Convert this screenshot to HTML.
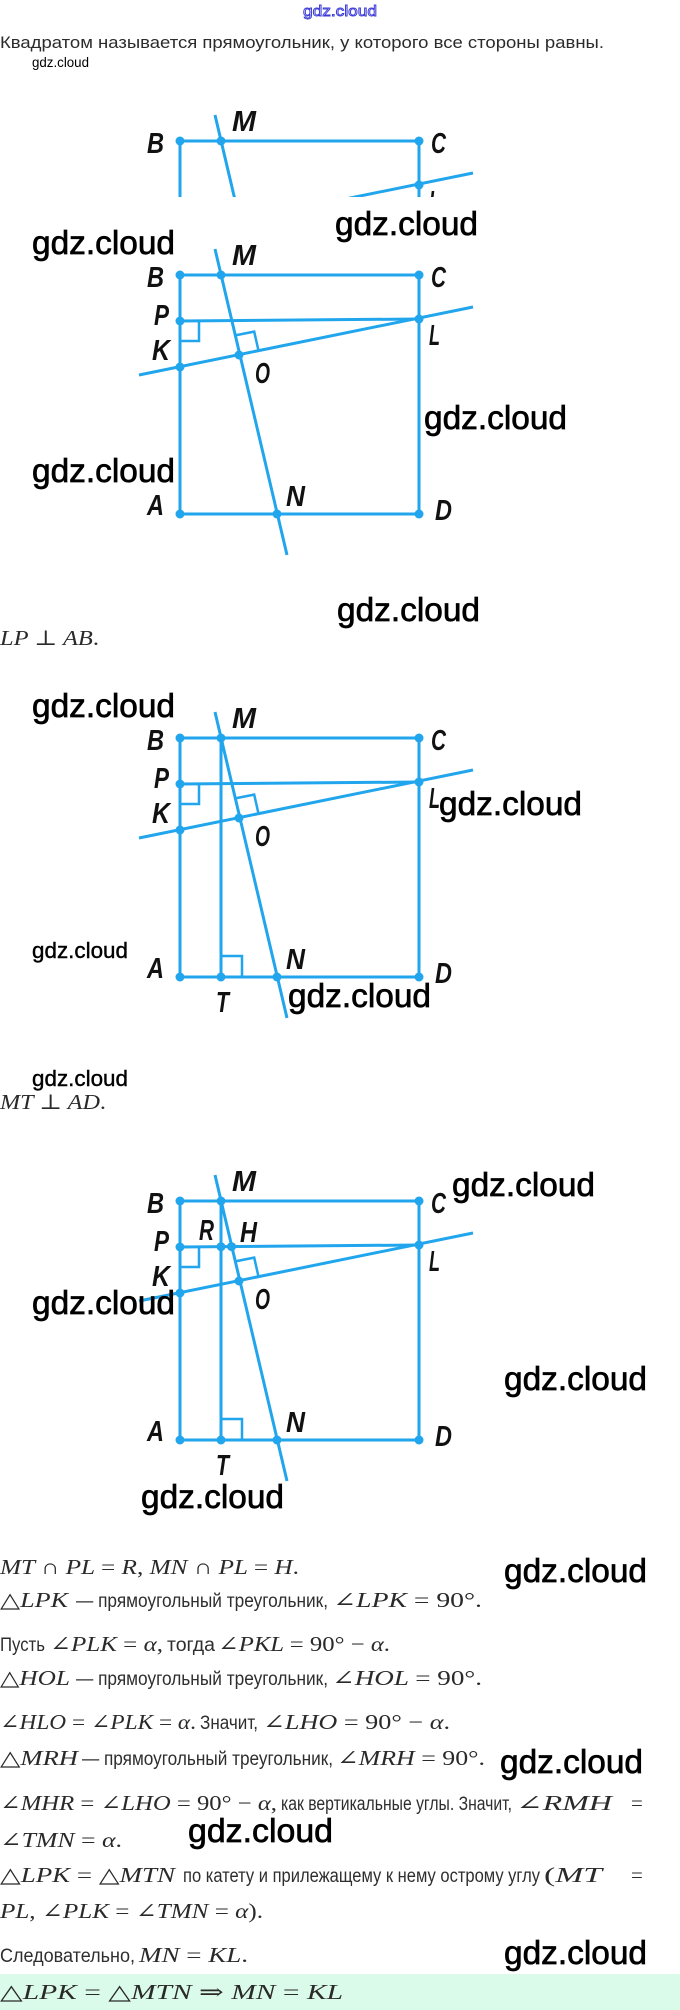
<!DOCTYPE html>
<html>
<head>
<meta charset="utf-8">
<style>
html,body{margin:0;padding:0;background:#fff;}
body{width:680px;height:2010px;overflow:hidden;position:relative;}
svg{display:block;}
.m{font-family:"Liberation Serif","DejaVu Serif",serif;font-style:italic;font-size:21px;fill:#2a2a2a;}
.u{font-style:normal;}
.t{font-family:"Liberation Sans","DejaVu Sans",sans-serif;font-size:19px;fill:#2e2e2e;}
.p{font-family:"Liberation Sans","DejaVu Sans",sans-serif;font-size:17px;fill:#2b2b2b;}
.w{font-family:"Liberation Sans","DejaVu Sans",sans-serif;font-size:33px;fill:#000;stroke:#000;stroke-width:0.7;}
.wm{font-family:"Liberation Sans","DejaVu Sans",sans-serif;font-size:22px;fill:#000;stroke:#000;stroke-width:0.4;}
.ws{font-family:"Liberation Sans","DejaVu Sans",sans-serif;font-size:13.5px;fill:#000;}
.lb{font-family:"Liberation Sans","DejaVu Sans",sans-serif;font-size:29px;font-weight:bold;font-style:italic;fill:#111;}
.ln{fill:none;stroke:#21a5ec;stroke-width:3;}
.ra{fill:none;stroke:#21a5ec;stroke-width:2.5;}
.dt{fill:#21a5ec;}
</style>
</head>
<body>
<svg width="680" height="2010" viewBox="0 0 680 2010" xmlns="http://www.w3.org/2000/svg">
<defs>
<clipPath id="c1"><rect x="0" y="-60" width="680" height="116"/></clipPath>
</defs>

<!-- top blue watermark -->
<text x="303" y="16" font-family="Liberation Sans, sans-serif" font-size="15" textLength="74" lengthAdjust="spacingAndGlyphs" fill="#fff" stroke="#3b3bd6" stroke-width="0.9">gdz.cloud</text>

<!-- paragraph -->
<text class="p" x="0" y="48" textLength="604" lengthAdjust="spacingAndGlyphs">Квадратом называется прямоугольник, у которого все стороны равны.</text>
<text class="ws" x="32" y="67" textLength="57" lengthAdjust="spacingAndGlyphs">gdz.cloud</text>

<!-- FIGURE 1 (cropped) -->
<g transform="translate(0,141)">
 <g clip-path="url(#c1)">
  <rect class="ln" x="180" y="0" width="239" height="239"/>
  <line class="ln" x1="215" y1="-26" x2="287" y2="280"/>
  <line class="ln" x1="139" y1="100" x2="473" y2="32"/>
  <circle class="dt" cx="180" cy="0" r="4.5"/>
  <circle class="dt" cx="221" cy="0" r="4.5"/>
  <circle class="dt" cx="419" cy="0" r="4.5"/>
  <circle class="dt" cx="419" cy="44" r="4.5"/>
  <text class="lb" x="429" y="70" textLength="11" lengthAdjust="spacingAndGlyphs">L</text>
 </g>
 <text class="lb" x="232" y="-10" textLength="24" lengthAdjust="spacingAndGlyphs">M</text>
 <text class="lb" x="147" y="12" textLength="17" lengthAdjust="spacingAndGlyphs">B</text>
 <text class="lb" x="431" y="12" textLength="15" lengthAdjust="spacingAndGlyphs">C</text>
</g>

<!-- FIGURE 2 -->
<g transform="translate(0,275)">
 <rect class="ln" x="180" y="0" width="239" height="239"/>
 <line class="ln" x1="180" y1="46" x2="419" y2="44"/>
 <line class="ln" x1="215" y1="-26" x2="287" y2="280"/>
 <line class="ln" x1="139" y1="100" x2="473" y2="32"/>
 <polyline class="ra" points="180,66 199,66 199,46"/>
 <polyline class="ra" points="234.6,60.5 254.2,56.6 258.6,76.1"/>
 <circle class="dt" cx="180" cy="0" r="4.5"/>
 <circle class="dt" cx="221" cy="0" r="4.5"/>
 <circle class="dt" cx="419" cy="0" r="4.5"/>
 <circle class="dt" cx="180" cy="46" r="4.5"/>
 <circle class="dt" cx="419" cy="44" r="4.5"/>
 <circle class="dt" cx="180" cy="92" r="4.5"/>
 <circle class="dt" cx="239" cy="80" r="4.5"/>
 <circle class="dt" cx="180" cy="239" r="4.5"/>
 <circle class="dt" cx="277" cy="239" r="4.5"/>
 <circle class="dt" cx="419" cy="239" r="4.5"/>
 <text class="lb" x="232" y="-10" textLength="24" lengthAdjust="spacingAndGlyphs">M</text>
 <text class="lb" x="147" y="12" textLength="17" lengthAdjust="spacingAndGlyphs">B</text>
 <text class="lb" x="431" y="12" textLength="15" lengthAdjust="spacingAndGlyphs">C</text>
 <text class="lb" x="154" y="50" textLength="15" lengthAdjust="spacingAndGlyphs">P</text>
 <text class="lb" x="429" y="70" textLength="11" lengthAdjust="spacingAndGlyphs">L</text>
 <text class="lb" x="152" y="85" textLength="18" lengthAdjust="spacingAndGlyphs">K</text>
 <text class="lb" x="255" y="108" textLength="15" lengthAdjust="spacingAndGlyphs">O</text>
 <text class="lb" x="147" y="240" textLength="17" lengthAdjust="spacingAndGlyphs">A</text>
 <text class="lb" x="286" y="231" textLength="19" lengthAdjust="spacingAndGlyphs">N</text>
 <text class="lb" x="435" y="245" textLength="17" lengthAdjust="spacingAndGlyphs">D</text>
</g>

<!-- FIGURE 3 -->
<g transform="translate(0,738)">
 <rect class="ln" x="180" y="0" width="239" height="239"/>
 <line class="ln" x1="180" y1="46" x2="419" y2="44"/>
 <line class="ln" x1="215" y1="-26" x2="287" y2="280"/>
 <line class="ln" x1="139" y1="100" x2="473" y2="32"/>
 <line class="ln" x1="221" y1="0" x2="221" y2="239"/>
 <polyline class="ra" points="180,66 199,66 199,46"/>
 <polyline class="ra" points="234.6,60.5 254.2,56.6 258.6,76.1"/>
 <polyline class="ra" points="221,218 242,218 242,239"/>
 <circle class="dt" cx="180" cy="0" r="4.5"/>
 <circle class="dt" cx="221" cy="0" r="4.5"/>
 <circle class="dt" cx="419" cy="0" r="4.5"/>
 <circle class="dt" cx="180" cy="46" r="4.5"/>
 <circle class="dt" cx="419" cy="44" r="4.5"/>
 <circle class="dt" cx="180" cy="92" r="4.5"/>
 <circle class="dt" cx="239" cy="80" r="4.5"/>
 <circle class="dt" cx="180" cy="239" r="4.5"/>
 <circle class="dt" cx="221" cy="239" r="4.5"/>
 <circle class="dt" cx="277" cy="239" r="4.5"/>
 <circle class="dt" cx="419" cy="239" r="4.5"/>
 <text class="lb" x="232" y="-10" textLength="24" lengthAdjust="spacingAndGlyphs">M</text>
 <text class="lb" x="147" y="12" textLength="17" lengthAdjust="spacingAndGlyphs">B</text>
 <text class="lb" x="431" y="12" textLength="15" lengthAdjust="spacingAndGlyphs">C</text>
 <text class="lb" x="154" y="50" textLength="15" lengthAdjust="spacingAndGlyphs">P</text>
 <text class="lb" x="429" y="70" textLength="11" lengthAdjust="spacingAndGlyphs">L</text>
 <text class="lb" x="152" y="85" textLength="18" lengthAdjust="spacingAndGlyphs">K</text>
 <text class="lb" x="255" y="108" textLength="15" lengthAdjust="spacingAndGlyphs">O</text>
 <text class="lb" x="147" y="240" textLength="17" lengthAdjust="spacingAndGlyphs">A</text>
 <text class="lb" x="286" y="231" textLength="19" lengthAdjust="spacingAndGlyphs">N</text>
 <text class="lb" x="435" y="245" textLength="17" lengthAdjust="spacingAndGlyphs">D</text>
 <text class="lb" x="216" y="274" textLength="13" lengthAdjust="spacingAndGlyphs">T</text>
</g>

<!-- FIGURE 4 -->
<g transform="translate(0,1201)">
 <rect class="ln" x="180" y="0" width="239" height="239"/>
 <line class="ln" x1="180" y1="46" x2="419" y2="44"/>
 <line class="ln" x1="215" y1="-26" x2="287" y2="280"/>
 <line class="ln" x1="139" y1="100" x2="473" y2="32"/>
 <line class="ln" x1="221" y1="0" x2="221" y2="239"/>
 <polyline class="ra" points="180,66 199,66 199,46"/>
 <polyline class="ra" points="234.6,60.5 254.2,56.6 258.6,76.1"/>
 <polyline class="ra" points="221,218 242,218 242,239"/>
 <circle class="dt" cx="180" cy="0" r="4.5"/>
 <circle class="dt" cx="221" cy="0" r="4.5"/>
 <circle class="dt" cx="419" cy="0" r="4.5"/>
 <circle class="dt" cx="180" cy="46" r="4.5"/>
 <circle class="dt" cx="221" cy="45.7" r="4.5"/>
 <circle class="dt" cx="231.5" cy="45.6" r="4.5"/>
 <circle class="dt" cx="419" cy="44" r="4.5"/>
 <circle class="dt" cx="180" cy="92" r="4.5"/>
 <circle class="dt" cx="239" cy="80" r="4.5"/>
 <circle class="dt" cx="180" cy="239" r="4.5"/>
 <circle class="dt" cx="221" cy="239" r="4.5"/>
 <circle class="dt" cx="277" cy="239" r="4.5"/>
 <circle class="dt" cx="419" cy="239" r="4.5"/>
 <text class="lb" x="232" y="-10" textLength="24" lengthAdjust="spacingAndGlyphs">M</text>
 <text class="lb" x="147" y="12" textLength="17" lengthAdjust="spacingAndGlyphs">B</text>
 <text class="lb" x="431" y="12" textLength="15" lengthAdjust="spacingAndGlyphs">C</text>
 <text class="lb" x="154" y="50" textLength="15" lengthAdjust="spacingAndGlyphs">P</text>
 <text class="lb" x="199" y="39" textLength="15" lengthAdjust="spacingAndGlyphs">R</text>
 <text class="lb" x="240" y="41" textLength="17" lengthAdjust="spacingAndGlyphs">H</text>
 <text class="lb" x="429" y="70" textLength="11" lengthAdjust="spacingAndGlyphs">L</text>
 <text class="lb" x="152" y="85" textLength="18" lengthAdjust="spacingAndGlyphs">K</text>
 <text class="lb" x="255" y="108" textLength="15" lengthAdjust="spacingAndGlyphs">O</text>
 <text class="lb" x="147" y="240" textLength="17" lengthAdjust="spacingAndGlyphs">A</text>
 <text class="lb" x="286" y="231" textLength="19" lengthAdjust="spacingAndGlyphs">N</text>
 <text class="lb" x="435" y="245" textLength="17" lengthAdjust="spacingAndGlyphs">D</text>
 <text class="lb" x="216" y="274" textLength="13" lengthAdjust="spacingAndGlyphs">T</text>
</g>

<!-- math captions under figures -->
<text class="m" x="0" y="645" textLength="99" lengthAdjust="spacingAndGlyphs">LP <tspan class="u">⊥</tspan> AB<tspan class="u">.</tspan></text>
<text class="m" x="0" y="1109" textLength="106" lengthAdjust="spacingAndGlyphs">MT <tspan class="u">⊥</tspan> AD<tspan class="u">.</tspan></text>

<!-- solution text -->
<text class="m" x="0" y="1574" textLength="299" lengthAdjust="spacingAndGlyphs">MT <tspan class="u">∩</tspan> PL <tspan class="u">=</tspan> R<tspan class="u">,</tspan> MN <tspan class="u">∩</tspan> PL <tspan class="u">=</tspan> H<tspan class="u">.</tspan></text>

<text class="m" x="0" y="1607" textLength="68" lengthAdjust="spacingAndGlyphs"><tspan class="u">△</tspan>LPK</text>
<text class="t" x="76" y="1607" textLength="252" lengthAdjust="spacingAndGlyphs">— прямоугольный треугольник,</text>
<text class="m" x="333" y="1607" textLength="149" lengthAdjust="spacingAndGlyphs"><tspan class="u">∠</tspan>LPK <tspan class="u">= 90°.</tspan></text>

<text class="t" x="0" y="1651" textLength="45" lengthAdjust="spacingAndGlyphs">Пусть</text>
<text class="m" x="50" y="1651" textLength="113" lengthAdjust="spacingAndGlyphs"><tspan class="u">∠</tspan>PLK <tspan class="u">=</tspan> α<tspan class="u">,</tspan></text>
<text class="t" x="167" y="1651" textLength="48" lengthAdjust="spacingAndGlyphs">тогда</text>
<text class="m" x="218" y="1651" textLength="172" lengthAdjust="spacingAndGlyphs"><tspan class="u">∠</tspan>PKL <tspan class="u">= 90° −</tspan> α<tspan class="u">.</tspan></text>

<text class="m" x="0" y="1685" textLength="70" lengthAdjust="spacingAndGlyphs"><tspan class="u">△</tspan>HOL</text>
<text class="t" x="76" y="1685" textLength="252" lengthAdjust="spacingAndGlyphs">— прямоугольный треугольник,</text>
<text class="m" x="332" y="1685" textLength="150" lengthAdjust="spacingAndGlyphs"><tspan class="u">∠</tspan>HOL <tspan class="u">= 90°.</tspan></text>

<text class="m" x="0" y="1729" textLength="196" lengthAdjust="spacingAndGlyphs"><tspan class="u">∠</tspan>HLO <tspan class="u">= ∠</tspan>PLK <tspan class="u">=</tspan> α<tspan class="u">.</tspan></text>
<text class="t" x="200" y="1729" textLength="58" lengthAdjust="spacingAndGlyphs">Значит,</text>
<text class="m" x="263" y="1729" textLength="187" lengthAdjust="spacingAndGlyphs"><tspan class="u">∠</tspan>LHO <tspan class="u">= 90° −</tspan> α<tspan class="u">.</tspan></text>

<text class="m" x="0" y="1765" textLength="78" lengthAdjust="spacingAndGlyphs"><tspan class="u">△</tspan>MRH</text>
<text class="t" x="82" y="1765" textLength="251" lengthAdjust="spacingAndGlyphs">— прямоугольный треугольник,</text>
<text class="m" x="337" y="1765" textLength="148" lengthAdjust="spacingAndGlyphs"><tspan class="u">∠</tspan>MRH <tspan class="u">= 90°.</tspan></text>

<text class="m" x="0" y="1810" textLength="277" lengthAdjust="spacingAndGlyphs"><tspan class="u">∠</tspan>MHR <tspan class="u">= ∠</tspan>LHO <tspan class="u">= 90° −</tspan> α<tspan class="u">,</tspan></text>
<text class="t" x="281" y="1810" textLength="231" lengthAdjust="spacingAndGlyphs">как вертикальные углы. Значит,</text>
<text class="m" x="516" y="1810" textLength="96" lengthAdjust="spacingAndGlyphs"><tspan class="u">∠</tspan>RMH</text>
<text class="m u" x="631" y="1810">=</text>

<text class="m" x="0" y="1847" textLength="122" lengthAdjust="spacingAndGlyphs"><tspan class="u">∠</tspan>TMN <tspan class="u">=</tspan> α<tspan class="u">.</tspan></text>

<text class="m" x="0" y="1882" textLength="175" lengthAdjust="spacingAndGlyphs"><tspan class="u">△</tspan>LPK <tspan class="u">= △</tspan>MTN</text>
<text class="t" x="183" y="1882" textLength="357" lengthAdjust="spacingAndGlyphs">по катету и прилежащему к нему острому углу</text>
<text class="m" x="544" y="1882" textLength="58" lengthAdjust="spacingAndGlyphs"><tspan class="u">(</tspan>MT</text>
<text class="m u" x="631" y="1882">=</text>

<text class="m" x="0" y="1918" textLength="263" lengthAdjust="spacingAndGlyphs">PL<tspan class="u">, ∠</tspan>PLK <tspan class="u">= ∠</tspan>TMN <tspan class="u">=</tspan> α<tspan class="u">).</tspan></text>

<text class="t" x="0" y="1962" textLength="135" lengthAdjust="spacingAndGlyphs">Следовательно,</text>
<text class="m" x="139" y="1962" textLength="109" lengthAdjust="spacingAndGlyphs">MN <tspan class="u">=</tspan> KL<tspan class="u">.</tspan></text>

<!-- green result box -->
<rect x="0" y="1974" width="680" height="36" fill="#dbfbea"/>
<text class="m" x="0" y="1999" textLength="343" lengthAdjust="spacingAndGlyphs"><tspan class="u">△</tspan>LPK <tspan class="u">= △</tspan>MTN <tspan class="u">⇒</tspan> MN <tspan class="u">=</tspan> KL</text>

<!-- watermarks -->
<text class="w" x="335" y="235" textLength="143" lengthAdjust="spacingAndGlyphs">gdz.cloud</text>
<text class="w" x="32" y="254" textLength="143" lengthAdjust="spacingAndGlyphs">gdz.cloud</text>
<text class="w" x="424" y="429" textLength="143" lengthAdjust="spacingAndGlyphs">gdz.cloud</text>
<text class="w" x="32" y="482" textLength="143" lengthAdjust="spacingAndGlyphs">gdz.cloud</text>
<text class="w" x="337" y="621" textLength="143" lengthAdjust="spacingAndGlyphs">gdz.cloud</text>
<text class="w" x="32" y="717" textLength="143" lengthAdjust="spacingAndGlyphs">gdz.cloud</text>
<text class="w" x="439" y="815" textLength="143" lengthAdjust="spacingAndGlyphs">gdz.cloud</text>
<text class="wm" x="32" y="958" textLength="96" lengthAdjust="spacingAndGlyphs">gdz.cloud</text>
<text class="w" x="288" y="1007" textLength="143" lengthAdjust="spacingAndGlyphs">gdz.cloud</text>
<text class="wm" x="32" y="1086" textLength="96" lengthAdjust="spacingAndGlyphs">gdz.cloud</text>
<text class="w" x="452" y="1196" textLength="143" lengthAdjust="spacingAndGlyphs">gdz.cloud</text>
<text class="w" x="32" y="1314" textLength="143" lengthAdjust="spacingAndGlyphs">gdz.cloud</text>
<text class="w" x="504" y="1390" textLength="143" lengthAdjust="spacingAndGlyphs">gdz.cloud</text>
<text class="w" x="141" y="1508" textLength="143" lengthAdjust="spacingAndGlyphs">gdz.cloud</text>
<text class="w" x="504" y="1582" textLength="143" lengthAdjust="spacingAndGlyphs">gdz.cloud</text>
<text class="w" x="500" y="1773" textLength="143" lengthAdjust="spacingAndGlyphs">gdz.cloud</text>
<text class="w" x="188" y="1842" textLength="145" lengthAdjust="spacingAndGlyphs">gdz.cloud</text>
<text class="w" x="504" y="1964" textLength="143" lengthAdjust="spacingAndGlyphs">gdz.cloud</text>
</svg>
</body>
</html>
